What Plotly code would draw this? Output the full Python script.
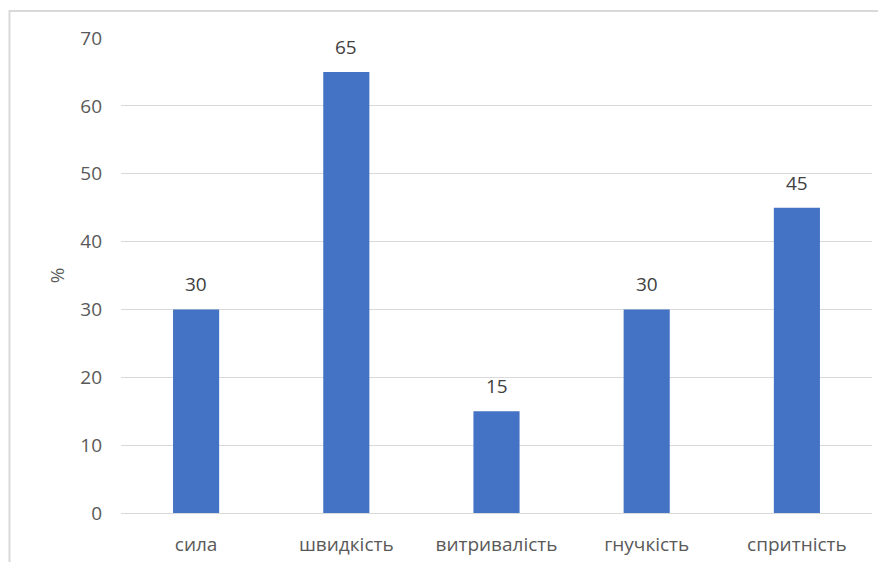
import plotly.graph_objects as go

categories = ["сила", "швидкість", "витривалість", "гнучкість", "спритність"]
values = [30, 65, 15, 30, 45]
y_ticks = [0, 10, 20, 30, 40, 50, 60, 70]

FONT = "Open Sans"
FS = 19

# page body has an 8px default margin; compensate so plot area lands at the reference pixels
fig = go.Figure(
    go.Bar(
        x=categories,
        y=values,
        marker=dict(color="#4472C4", line=dict(width=0)),
        width=0.307,
        hoverinfo="x+y",
    )
)

for c, v in zip(categories, values):
    fig.add_annotation(
        x=c,
        y=v,
        text=str(v),
        showarrow=False,
        yanchor="middle",
        yshift=25,
        font=dict(family=FONT, size=FS, color="#404040"),
    )

fig.update_layout(
    width=878,
    height=554,
    margin=dict(l=113, r=14, t=30, b=49),
    paper_bgcolor="white",
    plot_bgcolor="white",
    showlegend=False,
    font=dict(family=FONT, size=FS, color="#595959"),
    xaxis=dict(
        showgrid=False,
        showline=False,
        ticks="",
        automargin=False,
        ticklabelstandoff=18,
        tickfont=dict(family=FONT, size=FS, color="#595959"),
    ),
    yaxis=dict(
        range=[0, 70],
        tickvals=y_ticks,
        showgrid=True,
        gridcolor="#d9d9d9",
        gridwidth=1.3,
        zeroline=True,
        zerolinecolor="#d9d9d9",
        zerolinewidth=1.3,
        showline=False,
        ticks="",
        automargin=False,
        ticklabelstandoff=18,
        tickfont=dict(family=FONT, size=FS, color="#595959"),
        title=dict(text="%", font=dict(family=FONT, size=FS, color="#595959"), standoff=10),
    ),
    shapes=[
        dict(
            type="rect",
            xref="paper",
            yref="paper",
            x0=-0.1485,
            x1=1.2,
            y0=-0.3,
            y1=1.0568,
            line=dict(color="#d9d9d9", width=2),
            fillcolor="rgba(0,0,0,0)",
            layer="below",
        )
    ],
)

fig.write_html("out.html")
